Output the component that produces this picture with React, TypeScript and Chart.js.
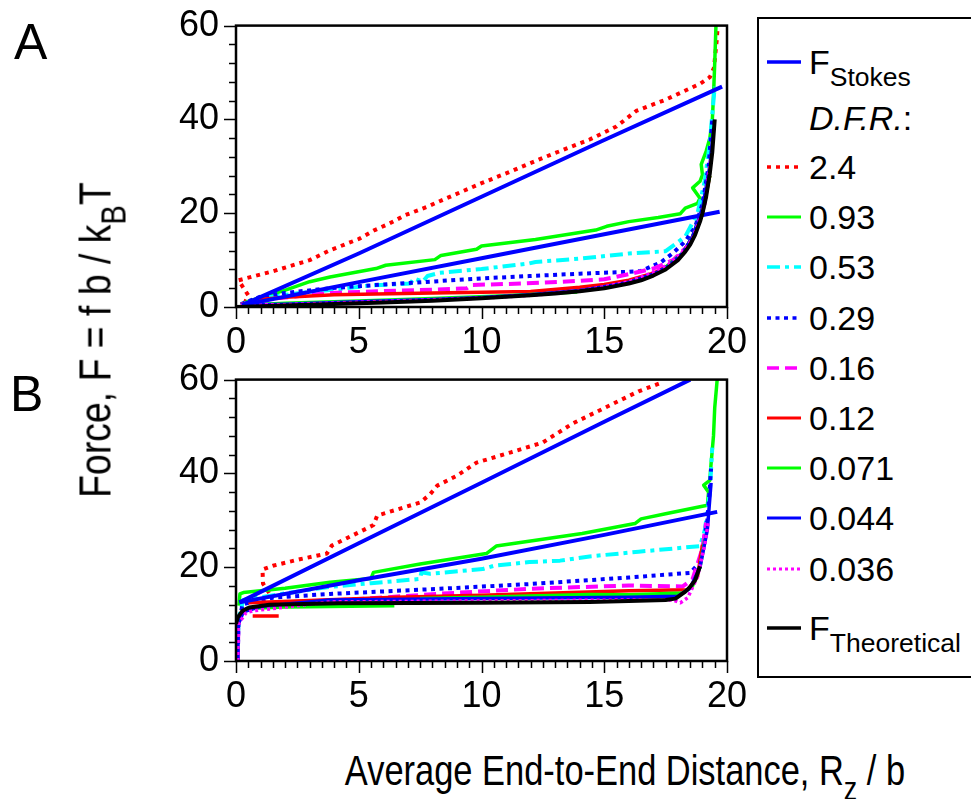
import React, { useEffect, useRef } from "react";
import { Chart, registerables } from "chart.js";

Chart.register(...registerables);

const FONT = "'Liberation Sans', Arial, Helvetica, sans-serif";

// ---------- axes ----------
const X_MIN = 0;
const X_MAX = 20;
const X_MAJOR_STEP = 5;
const X_MINOR_STEP = 0.5;
const Y_MIN = 0;
const Y_MAX = 60;
const Y_MAJOR_STEP = 20;
const Y_MINOR_STEP = 4;

// ---------- legend ----------
const DFR_LABELS = ["2.4", "0.93", "0.53", "0.29", "0.16", "0.12", "0.071", "0.044", "0.036"];

// ---------- Panel A data ----------
const A_THEORY_X = [0, 2, 4, 6, 8, 10, 12, 13, 14, 15, 16, 16.5, 17, 17.5, 18, 18.3, 18.5, 18.7, 18.9, 19.0, 19.15, 19.3, 19.4, 19.5];
const A_THEORY_Y = [0, 0.3, 0.62, 0.95, 1.35, 1.85, 2.5, 2.9, 3.35, 4.0, 5.0, 5.7, 6.7, 8.0, 10.0, 11.8, 13.3, 15.4, 18.2, 20, 23.5, 28.5, 33, 40];

const A_STOKES1_X = [0.25, 5, 10, 15, 19.8];
const A_STOKES1_Y = [0.4, 11.4, 23.5, 35.6, 47.0];
const A_STOKES2_X = [0.25, 5, 10, 15, 19.7];
const A_STOKES2_Y = [0.4, 5.3, 10.4, 15.5, 20.3];

const A_24_X = [0.35, 0.5, 0.25, 0.1, 1.5, 3, 3.83, 5, 5.65, 6.25, 6.9, 7.8, 8.4, 10, 11, 12.5, 14.4, 15.5, 16.3, 17.5, 18.9, 19.3, 19.47, 19.58, 19.62];
const A_24_Y = [0.8, 2.5, 4.5, 5.7, 7.6, 10, 12.1, 14.5, 16.4, 17.8, 19.6, 21.4, 22.8, 26.4, 28.5, 31.8, 35.7, 38.5, 41.8, 44.2, 47.6, 49, 51, 56.8, 59.8];

const A_093_X = [0.2, 0.6, 1.1, 2.07, 3.0, 3.83, 5.7, 6.1, 8.1, 8.35, 9.8, 10.0, 12.2, 14.65, 15.1, 16.0, 17.2, 18.1, 18.3, 18.8, 18.9, 18.6, 18.9, 19.0, 18.95, 19.15, 19.3, 19.4, 19.45, 19.5, 19.55];
const A_093_Y = [0.6, 1.4, 2.1, 3.7, 5.4, 6.4, 8.2, 8.9, 10.1, 11.0, 12.3, 13.0, 14.4, 16.4, 17.2, 18.2, 19.1, 19.9, 21.1, 22.1, 23.2, 25.4, 26.8, 28.2, 30.4, 33.2, 36, 39.7, 45, 52, 60];

const A_053_X = [0.2, 1, 2, 3, 3.83, 5.5, 7.1, 7.25, 7.6, 7.8, 8.3, 10, 11.95, 12.2, 14, 16, 17.5, 18.3, 18.8, 19.1, 19.3, 19.45, 19.5];
const A_053_Y = [0.5, 1.8, 2.6, 3.2, 3.6, 4.6, 5.0, 6.1, 5.4, 6.6, 7.3, 8.1, 9.3, 9.6, 10.3, 11.4, 11.9, 15, 20, 27, 35, 44, 47];

const A_029_X = [0.2, 1, 2, 3.83, 6, 7.9, 10, 11.95, 14, 16, 16.5, 17.3, 17.8, 18.3, 18.7, 19.0, 19.25, 19.4];
const A_029_Y = [0.6, 2.2, 3.0, 4.0, 4.8, 5.4, 6.1, 6.6, 7.1, 7.5, 7.7, 9.5, 11.5, 14, 17, 22, 30, 40];

const A_016_X = [0.2, 1, 3.83, 6, 8, 9.4, 9.6, 11, 13.3, 15, 16, 17, 17.8, 18.4, 18.8, 19.1, 19.3];
const A_016_Y = [0.5, 1.5, 3.0, 3.4, 3.7, 4.0, 4.7, 4.9, 5.4, 5.9, 7.0, 8.2, 10, 13, 17, 23, 30];

const A_012_X = [0.2, 1, 2, 4, 8, 12, 14, 15, 16, 17, 17.6, 18.2, 18.6, 19, 19.3];
const A_012_Y = [0.5, 1.6, 2.1, 2.6, 3.0, 3.3, 4.2, 4.8, 5.7, 7.2, 8.8, 11.5, 15, 20, 28];

const A_0071_X = [0.2, 2, 5, 8, 11, 13.9, 15, 17.5, 18.2, 18.6, 19, 19.3];
const A_0071_Y = [0.4, 0.8, 1.3, 1.8, 2.4, 3.2, null, 8.5, 11.5, 15, 21, 28];

const A_0044_X = [0.2, 2, 5, 8, 10, 12, 14, 15, 16, 17, 17.6, 18.2, 18.6, 19, 19.3, 19.45];
const A_0044_Y = [0.4, 0.6, 1.1, 1.6, 2.0, 2.6, 3.5, 4.3, 5.3, 7.0, 8.7, 11.5, 15, 21, 30, 38];

const A_0036_X = [0.2, 2, 5, 8, 10, 12, 14, 15, 16, 17, 17.6, 18.2, 18.6, 19.1, 19.35];
const A_0036_Y = [0.4, 0.5, 1.0, 1.5, 1.9, 2.5, 3.4, 4.3, 5.4, 7.4, 9, 11.8, 14.5, 22, 32];

// ---------- Panel B data ----------
const B_THEORY_X = [0, 0.07, 0.27, 0.54, 1.36, 4.2, 10, 14.4, 16, 17.5, 17.9, 18.3, 18.5, 18.7, 18.9];
const B_THEORY_Y = [7.9, 9.3, 10.7, 11.4, 12.0, 12.3, 12.4, 12.6, 12.8, 13.0, 13.3, 14.8, 15.8, 17.2, 20.2];

const B_STOKES1_X = [0.14, 5, 10, 15, 18.5];
const B_STOKES1_Y = [12.5, 25.1, 38.0, 51.0, 60];
const B_STOKES2_X = [0.14, 5, 10, 15, 19.6];
const B_STOKES2_Y = [12.5, 17.2, 21.8, 26.9, 31.8];

const B_24_X = [1.35, 1.1, 1.08, 1.5, 2.6, 3.7, 3.9, 5.3, 5.6, 5.75, 7.5, 7.9, 8.2, 9.0, 9.8, 11.2, 12.5, 13.7, 15.3, 16.4, 17.4];
const B_24_Y = [14.5, 16.5, 19.5, 20.3, 21.7, 22.9, 24.6, 28.2, 29.0, 31.0, 33.8, 35.5, 37.4, 39.5, 42.3, 44.5, 46.6, 50.6, 54.7, 57.5, 59.5];

const B_093_X = [0.12, 0.16, 0.3, 2, 3.83, 5.5, 5.6, 7.5, 10.2, 10.6, 14.1, 16.25, 16.5, 17.5, 19.2, 19.25, 19.05, 19.3, 19.35, 19.45, 19.5, 19.6];
const B_093_Y = [11.8, 14.3, 14.6, 15.5, 16.8, 17.6, 18.9, 20.7, 22.9, 24.5, 27.2, 29.3, 30.3, 31.4, 33.2, 36, 37.5, 38.5, 42, 48, 54, 60];

const B_053_X = [0.07, 0.1, 0.3, 1.6, 3.8, 5.5, 7.5, 7.55, 7.9, 10.05, 10.5, 11.95, 13.2, 14.4, 16.4, 18.9, 19.1, 19.3, 19.4];
const B_053_Y = [0, 9, 13, 14.1, 15.8, 16.6, 17.5, 18.9, 18.6, 19.6, 20.3, 21.1, 21.4, 22.3, 23.3, 24.5, 28, 36, 45.5];

const B_029_X = [0.07, 0.1, 0.27, 1.5, 3.83, 8.3, 11.95, 16, 18.5, 18.9, 19.2, 19.3, 19.35];
const B_029_Y = [0, 8, 12.1, 13.5, 14.3, 15.4, 16.4, 17.8, 18.8, 21, 30, 37, 41];

const B_016_X = [0.07, 0.1, 0.3, 2, 5, 8.15, 11.95, 16, 18.2, 18.6, 19.0, 19.15];
const B_016_Y = [0, 8, 11, 12.5, 13.2, 14.3, 15.4, 16.1, 15.9, 17.5, 24, 29.5];

const B_012_X = [0.68, 1.74, 1.8, 0.5, 3, 6.5, 10, 16, 18.4, 18.8, 19.0];
const B_012_Y = [9.6, 9.6, null, 12.4, 12.9, 13.6, 14.0, 15.0, 15.2, 18, 24.8];

const B_0071_X = [0.4, 2, 6.45, 7, 7.5, 10, 14.4, 16, 18.2, 18.6, 18.9, 19.1];
const B_0071_Y = [11.2, 11.5, 11.8, null, 13.3, 13.6, 14.2, 14.1, 14.5, 16, 20, 26];

const B_0044_X = [0.07, 0.1, 0.3, 1, 3.83, 10, 16, 18, 18.5, 18.9, 19.2, 19.35];
const B_0044_Y = [0, 8, 10.5, 11.6, 13.0, 13.3, 13.6, 13.8, 15.5, 20, 28, 38];

const B_0036_X = [0.07, 0.1, 0.41, 0.68, 1.36, 3.83, 10, 16, 17.8, 18.1, 18.4, 18.8, 19.1, 19.25];
const B_0036_Y = [0, 7.9, 10.3, 10.7, 11.1, 12.6, 12.8, 13.0, 13.0, 12.4, 13.5, 18, 25, 30];

// ---------- styles ----------
type Style = { color: string; dash: number[]; width: number };
const ST: Record<string, Style> = {
  theory: { color: "#000000", dash: [], width: 4 },
  stokes: { color: "#0000ff", dash: [], width: 4 },
  d24: { color: "#ff0000", dash: [4, 5], width: 4 },
  d093: { color: "#00ff00", dash: [], width: 3.5 },
  d053: { color: "#00ffff", dash: [13, 5, 4, 5], width: 4 },
  d029: { color: "#0000ff", dash: [4, 4.5], width: 4 },
  d016: { color: "#ff00ff", dash: [12, 6], width: 4 },
  d012: { color: "#ff0000", dash: [], width: 3.5 },
  d0071: { color: "#00ff00", dash: [], width: 3.5 },
  d0044: { color: "#0000ff", dash: [], width: 3.5 },
  d0036: { color: "#ff00ff", dash: [3, 3], width: 3.5 },
};
const DFR_KEYS = ["d24", "d093", "d053", "d029", "d016", "d012", "d0071", "d0044", "d0036"];

type Series = { xs: number[]; ys: (number | null)[]; style: Style };
const mk = (xs: number[], ys: (number | null)[], key: string): Series => ({ xs, ys, style: ST[key] });

const SERIES_A: Series[] = [
  mk(A_THEORY_X, A_THEORY_Y, "theory"),
  mk(A_STOKES1_X, A_STOKES1_Y, "stokes"),
  mk(A_STOKES2_X, A_STOKES2_Y, "stokes"),
  mk(A_0036_X, A_0036_Y, "d0036"),
  mk(A_0044_X, A_0044_Y, "d0044"),
  mk(A_0071_X, A_0071_Y, "d0071"),
  mk(A_012_X, A_012_Y, "d012"),
  mk(A_016_X, A_016_Y, "d016"),
  mk(A_029_X, A_029_Y, "d029"),
  mk(A_053_X, A_053_Y, "d053"),
  mk(A_093_X, A_093_Y, "d093"),
  mk(A_24_X, A_24_Y, "d24"),
];
const SERIES_B: Series[] = [
  mk(B_THEORY_X, B_THEORY_Y, "theory"),
  mk(B_STOKES1_X, B_STOKES1_Y, "stokes"),
  mk(B_STOKES2_X, B_STOKES2_Y, "stokes"),
  mk(B_0036_X, B_0036_Y, "d0036"),
  mk(B_0044_X, B_0044_Y, "d0044"),
  mk(B_0071_X, B_0071_Y, "d0071"),
  mk(B_012_X, B_012_Y, "d012"),
  mk(B_016_X, B_016_Y, "d016"),
  mk(B_029_X, B_029_Y, "d029"),
  mk(B_053_X, B_053_Y, "d053"),
  mk(B_093_X, B_093_Y, "d093"),
  mk(B_24_X, B_24_Y, "d24"),
];

const frameTicks = {
  id: "frameTicks",
  afterDraw(chart: any) {
    const { ctx, chartArea } = chart;
    const { left, right, top, bottom } = chartArea;
    const xs = chart.scales.x;
    const ys = chart.scales.y;
    ctx.save();
    ctx.strokeStyle = "#000";
    ctx.lineWidth = 1.5;
    ctx.beginPath();
    for (let v = X_MIN; v <= X_MAX + 1e-9; v += X_MINOR_STEP) {
      const major = Math.abs(v / X_MAJOR_STEP - Math.round(v / X_MAJOR_STEP)) < 1e-6;
      const px = Math.round(xs.getPixelForValue(v)) + 0.5;
      ctx.moveTo(px, bottom);
      ctx.lineTo(px, bottom + (major ? 12 : 7));
    }
    for (let v = Y_MIN; v <= Y_MAX + 1e-9; v += Y_MINOR_STEP) {
      const major = Math.abs(v / Y_MAJOR_STEP - Math.round(v / Y_MAJOR_STEP)) < 1e-6;
      const py = Math.round(ys.getPixelForValue(v)) + 0.5;
      ctx.moveTo(left, py);
      ctx.lineTo(left - (major ? 12 : 7), py);
    }
    ctx.stroke();
    ctx.lineWidth = 2.5;
    ctx.strokeRect(left, top, right - left, bottom - top);
    ctx.restore();
  },
};

const CW = 640;
const CH = 370;

function Panel({ series, left, top }: { series: Series[]; left: number; top: number }) {
  const ref = useRef<HTMLCanvasElement>(null);
  useEffect(() => {
    const chart = new Chart(ref.current as HTMLCanvasElement, {
      type: "line",
      data: {
        datasets: series.map((s) => ({
          data: s.xs.map((x, i) => ({ x, y: s.ys[i] })) as any,
          borderColor: s.style.color,
          borderWidth: s.style.width,
          borderDash: s.style.dash,
          borderCapStyle: "butt",
          borderJoinStyle: "round",
          pointRadius: 0,
          fill: false,
          tension: 0,
          spanGaps: false,
        })),
      },
      options: {
        responsive: false,
        animation: false,
        events: [],
        layout: { padding: { top: 17, right: 43, bottom: 0, left: 0 } },
        plugins: { legend: { display: false }, tooltip: { enabled: false }, title: { display: false } },
        scales: {
          x: {
            type: "linear",
            min: X_MIN,
            max: X_MAX,
            ticks: { stepSize: X_MAJOR_STEP, color: "#000", font: { family: FONT, size: 36 }, padding: 6, maxRotation: 0 },
            grid: { display: false },
            border: { display: false },
            afterFit: (s: any) => {
              s.height = 58;
            },
          },
          y: {
            type: "linear",
            min: Y_MIN,
            max: Y_MAX,
            ticks: { stepSize: Y_MAJOR_STEP, color: "#000", font: { family: FONT, size: 36 }, padding: 9 },
            grid: { display: false },
            border: { display: false },
            afterFit: (s: any) => {
              s.width = 106;
            },
          },
        },
      } as any,
      plugins: [frameTicks],
    });
    return () => chart.destroy();
  }, [series]);
  return <canvas ref={ref} width={CW} height={CH} style={{ position: "absolute", left, top, width: CW, height: CH }} />;
}

function LegendLine({ style }: { style: Style }) {
  return (
    <svg width={36} height={10} style={{ position: "absolute", left: 8, top: -5 }}>
      <line x1={0} y1={5} x2={34} y2={5} stroke={style.color} strokeWidth={style.width - 0.5} strokeDasharray={style.dash.length ? style.dash.join(" ") : undefined} />
    </svg>
  );
}

function LegendRow({ y, style, children }: { y: number; style?: Style; children: React.ReactNode }) {
  return (
    <div style={{ position: "absolute", left: 0, top: y, height: 0, width: "100%" }}>
      {style ? <LegendLine style={style} /> : null}
      <div style={{ position: "absolute", left: 50, top: -19, fontSize: 34, lineHeight: "38px", whiteSpace: "nowrap", color: "#000" }}>{children}</div>
    </div>
  );
}

const subStyle: React.CSSProperties = { fontSize: "0.78em", position: "relative", top: "0.45em", verticalAlign: "baseline" };

function Legend() {
  const rows = DFR_LABELS.map((lab, i) => (
    <LegendRow key={lab} y={148 + i * 50.2} style={ST[DFR_KEYS[i]]}>
      {lab}
    </LegendRow>
  ));
  return (
    <div
      style={{
        position: "absolute",
        left: 757,
        top: 17,
        width: 250,
        height: 661,
        border: "2px solid #000",
        boxSizing: "border-box",
        background: "#fff",
        fontFamily: FONT,
      }}
    >
      <LegendRow y={43} style={ST.stokes}>
        F<span style={subStyle}>Stokes</span>
      </LegendRow>
      <LegendRow y={99}>
        <i>D.F.R.</i>:
      </LegendRow>
      {rows}
      <LegendRow y={609} style={ST.theory}>
        F<span style={subStyle}>Theoretical</span>
      </LegendRow>
    </div>
  );
}

export default function App() {
  return (
    <div style={{ position: "absolute", left: 0, top: 0, width: 971, height: 799, overflow: "hidden", background: "#fff", fontFamily: FONT }}>
      <Panel series={SERIES_A} left={130} top={-5} />
      <Panel series={SERIES_B} left={130} top={349} />
      <Legend />
      <div style={{ position: "absolute", left: 14, top: 17, fontSize: 50, lineHeight: "50px" }}>A</div>
      <div style={{ position: "absolute", left: 10, top: 369, fontSize: 50, lineHeight: "50px" }}>B</div>
      <div
        style={{
          position: "absolute",
          left: 97,
          top: 340,
          transform: "translate(-50%, -50%) rotate(-90deg) scaleX(0.85)",
          whiteSpace: "nowrap",
          fontSize: 44,
          lineHeight: "48px",
        }}
      >
        Force, F = f b / k<span style={subStyle}>B</span>T
      </div>
      <div
        style={{
          position: "absolute",
          left: 625,
          top: 772,
          transform: "translate(-50%, -50%) scaleX(0.82)",
          whiteSpace: "nowrap",
          fontSize: 42,
          lineHeight: "46px",
        }}
      >
        Average End-to-End Distance, R<span style={subStyle}>z</span> / b
      </div>
    </div>
  );
}
